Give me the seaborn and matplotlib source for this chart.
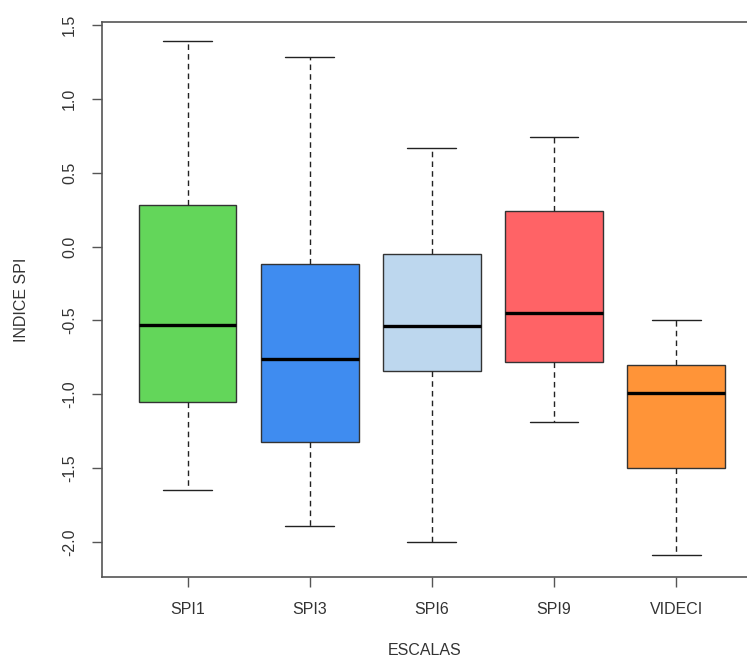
import numpy as np
import pandas as pd
import seaborn as sns
import matplotlib.pyplot as plt

# values: min, Q1, median, Q3, max per scale
escalas = ["SPI1", "SPI3", "SPI6", "SPI9", "VIDECI"]
spi1 = [-1.65, -1.05, -0.53, 0.28, 1.39]
spi3 = [-1.89, -1.32, -0.76, -0.12, 1.28]
spi6 = [-2.00, -0.84, -0.54, -0.05, 0.67]
spi9 = [-1.19, -0.78, -0.45, 0.24, 0.74]
videci = [-2.09, -1.50, -0.99, -0.80, -0.50]
colores = ["#63D65A", "#3F8CF0", "#BDD7EE", "#FF6366", "#FF9438"]

df = pd.DataFrame({
    "escala": np.repeat(escalas, 5),
    "indice": spi1 + spi3 + spi6 + spi9 + videci,
})

sns.set_style("white")
plt.rcParams["font.family"] = ["Liberation Sans", "DejaVu Sans"]

fig = plt.figure(figsize=(7.47, 6.6), dpi=100)
ax = fig.add_axes([102 / 747, 1 - 577 / 660, 1 - 102 / 747, (577 - 22) / 660])

sns.boxplot(
    data=df, x="escala", y="indice", hue="escala", palette=colores,
    order=escalas, hue_order=escalas, legend=False, saturation=1,
    whis=(0, 100), width=0.8, showfliers=False, ax=ax,
    boxprops=dict(edgecolor="#333333", linewidth=1.0),
    whiskerprops=dict(color="#222222", linestyle=(0, (4, 3)), linewidth=1.0),
    capprops=dict(color="#222222", linewidth=1.0),
    medianprops=dict(color="black", linewidth=2.4),
)

ax.set_xlim(-0.70, 4.58)
ax.set_ylim(-2.237, 1.52)
ax.set_yticks([-2.0, -1.5, -1.0, -0.5, 0.0, 0.5, 1.0, 1.5])
ax.set_yticklabels(["-2.0", "-1.5", "-1.0", "-0.5", "0.0", "0.5", "1.0", "1.5"],
                   rotation=90, va="center")

for s in ["left", "bottom", "top"]:
    ax.spines[s].set_visible(True)
    ax.spines[s].set_color("#555555")
    ax.spines[s].set_linewidth(1.2)
ax.spines["right"].set_visible(False)

ax.tick_params(axis="both", direction="out", length=7, width=1.0,
               color="#555555", labelsize=11.5, labelcolor="#333333", pad=11)
ax.tick_params(left=True, bottom=True)

ax.set_xlabel("ESCALAS", fontsize=11.5, color="#333333", labelpad=19)
ax.set_ylabel("INDICE SPI", fontsize=11.5, color="#333333", labelpad=24)

fig.savefig("out.png", dpi=100)
